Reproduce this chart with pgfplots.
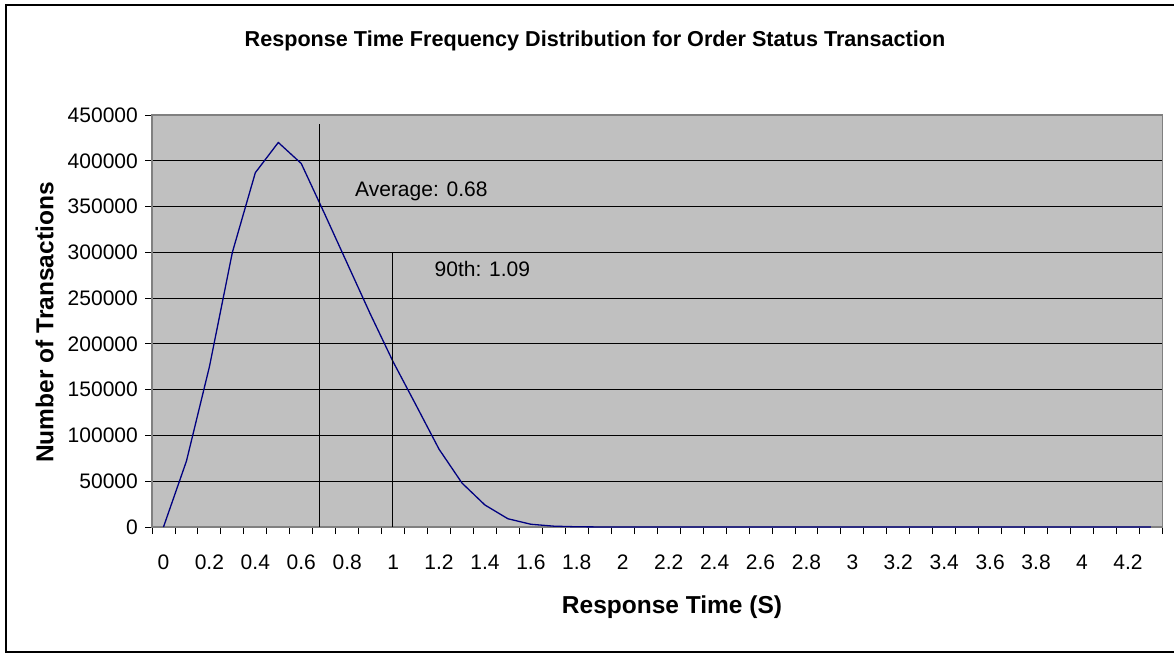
\documentclass[border=0pt]{standalone}
\usepackage{pgfplots}
\pgfplotsset{compat=1.18}
\usepackage{fontspec}
\setmainfont{Liberation Sans}
\definecolor{plotbg}{RGB}{192,192,192}
\definecolor{navyline}{RGB}{0,0,128}
\begin{document}
\fontsize{21}{25}\selectfont
\begin{tikzpicture}
\path[use as bounding box] (0pt,0pt) rectangle (1174pt,654pt);
\draw[line width=2.5pt] (1174pt,649pt) -- (6pt,649pt) -- (6pt,2pt) -- (1174pt,2pt);
\begin{axis}[
  at={(152pt,127pt)}, anchor=south west,
  scale only axis, width=1010.4pt, height=412pt,
  xmin=-0.5, xmax=43.5, ymin=0, ymax=450000,
  axis background/.style={fill=plotbg},
  axis line style={draw=gray, line width=1.2pt},
  ymajorgrids, grid style={black, line width=0.8pt},
  tick pos=left, tick align=outside,
  major tick length=7pt, minor tick length=7pt,
  tick style={black, line width=0.9pt},
  major x tick style={draw=none},
  ytick={0,50000,100000,150000,200000,250000,300000,350000,400000,450000},
  scaled y ticks=false,
  yticklabel style={/pgf/number format/fixed, /pgf/number format/1000 sep={}},
  xtick={0,2,4,6,8,10,12,14,16,18,20,22,24,26,28,30,32,34,36,38,40,42},
  xticklabels={0,0.2,0.4,0.6,0.8,1,1.2,1.4,1.6,1.8,2,2.2,2.4,2.6,2.8,3,3.2,3.4,3.6,3.8,4,4.2},
  xticklabel style={yshift=-14pt},
  minor xtick={-0.5,0.5,1.5,2.5,3.5,4.5,5.5,6.5,7.5,8.5,9.5,10.5,11.5,12.5,13.5,14.5,15.5,16.5,17.5,18.5,19.5,20.5,21.5,22.5,23.5,24.5,25.5,26.5,27.5,28.5,29.5,30.5,31.5,32.5,33.5,34.5,35.5,36.5,37.5,38.5,39.5,40.5,41.5,42.5,43.5},
  tick label style={font=\fontsize{21}{25}\selectfont},
  /pgf/number format/assume math mode=true,
  clip=false,
]
\addplot[navyline, line width=1.3pt, mark=none] coordinates {
(0,0) (1,72000) (2,175000) (3,300000) (4,387000) (5,420000) (6,397000)
(7,343000) (8,288000) (9,233000) (10,180500) (11,133000) (12,85000)
(13,48000) (14,24000) (15,9000) (16,3000) (17,900) (18,250) (19,60)
(20,0) (21,0) (22,0) (23,0) (24,0) (25,0) (26,0) (27,0) (28,0) (29,0)
(30,0) (31,0) (32,0) (33,0) (34,0) (35,0) (36,0) (37,0) (38,0) (39,0)
(40,0) (41,0) (42,0) (43,0)
};
\addplot[black, line width=1.4pt, mark=none] coordinates {(6.79,0) (6.79,440000)};
\addplot[black, line width=1.4pt, mark=none] coordinates {(9.97,0) (9.97,300000)};
\node[anchor=west, inner sep=0pt] at (axis cs:8.34,367000) {Average: 0.68};
\node[anchor=west, inner sep=0pt] at (axis cs:11.8,281700) {90th: 1.09};
\end{axis}
\node[font=\bfseries\fontsize{21.6}{26}\selectfont] at (595pt,613pt) {Response Time Frequency Distribution for Order Status Transaction};
\node[font=\bfseries\fontsize{24.5}{29}\selectfont] at (672pt,47pt) {Response Time (S)};
\node[font=\bfseries\fontsize{24.5}{29}\selectfont, rotate=90] at (44.7pt,331.5pt) {Number of Transactions};
\end{tikzpicture}
\end{document}
